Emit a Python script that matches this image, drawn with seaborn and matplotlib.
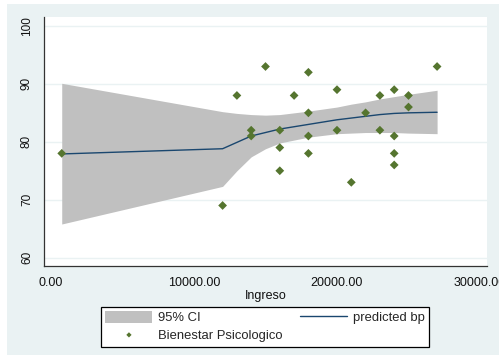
import numpy as np
import pandas as pd
import matplotlib
matplotlib.use("Agg")
import matplotlib.pyplot as plt
import matplotlib.patches as mpatches
import seaborn as sns

ingreso = [750, 12000, 13000, 14000, 14000, 15000, 16000, 16000, 16000, 17000,
           18000, 18000, 18000, 18000, 20000, 20000, 21000, 22000, 23000, 23000,
           24000, 24000, 24000, 24000, 25000, 25000, 27000]
bienestar = [78, 69, 88, 82, 81, 93, 82, 79, 75, 88,
             92, 85, 81, 78, 89, 82, 73, 85, 88, 82,
             89, 81, 78, 76, 88, 86, 93]

# Fitted values and 95% CI at each distinct x
fit_x = [750, 12000, 13000, 14000, 15000, 16000, 17000, 18000, 20000, 21000,
         22000, 23000, 24000, 25000, 27000]
fit_pred = [77.9, 78.8, 79.9, 81.0, 81.6, 82.2, 82.6, 83.0, 83.8, 84.1,
            84.4, 84.7, 84.9, 85.0, 85.1]
ci_low = [65.8, 72.3, 75.0, 77.4, 78.8, 79.8, 80.3, 80.8, 81.4, 81.5,
          81.6, 81.6, 81.6, 81.5, 81.4]
ci_high = [90.1, 85.2, 84.9, 84.7, 84.6, 84.7, 85.0, 85.3, 86.0, 86.5,
           86.9, 87.4, 87.8, 88.2, 88.9]

xticks = [0, 10000, 20000, 30000]
xtick_labels = ["0.00", "10000.00", "20000.00", "30000.00"]
yticks = [60, 70, 80, 90, 100]

obs = pd.DataFrame({"Ingreso": ingreso, "bp": bienestar})
fit = pd.DataFrame({"Ingreso": fit_x, "pred": fit_pred, "lo": ci_low, "hi": ci_high})

sns.set_style("white")
plt.rcParams["font.family"] = ["Liberation Sans", "DejaVu Sans"]

W, H = 499, 359
fig = plt.figure(figsize=(W / 100, H / 100), dpi=100)
fig.patch.set_facecolor("white")
# Stata-like graph region, behind the axes
fig.patches.append(mpatches.Rectangle((7 / W, 4 / H), (W - 7) / W, (355 - 4) / H,
                                      transform=fig.transFigure, facecolor="#EAF2F3",
                                      edgecolor="none", zorder=-10))

ax = fig.add_axes([44 / W, (H - 266) / H, (487 - 44) / W, (266 - 17) / H])
ax.set_facecolor("white")

ax.fill_between(fit["Ingreso"], fit["lo"], fit["hi"], color="#C0C0C0",
                linewidth=0, label="95% CI", zorder=2)
sns.lineplot(data=fit, x="Ingreso", y="pred", ax=ax, color="#1A476F",
             linewidth=1.0, label="predicted bp", zorder=3)
sns.scatterplot(data=obs, x="Ingreso", y="bp", ax=ax, marker="D", s=20,
                color="#55752F", edgecolor="none", label="Bienestar Psicologico",
                zorder=4)

ax.set_xlim(-490, 30490)
ax.set_ylim(58.55, 101.55)
ax.set_xticks(xticks)
ax.set_xticklabels(xtick_labels)
ax.set_yticks(yticks)
ax.set_yticklabels([str(v) for v in yticks], rotation=90, va="center")

ax.grid(axis="y", color="#EAF2F3", linewidth=1.0, zorder=1)
ax.set_axisbelow(True)
for s in ["top", "right"]:
    ax.spines[s].set_visible(False)
for s in ["left", "bottom"]:
    ax.spines[s].set_color("#333333")
    ax.spines[s].set_linewidth(0.9)

ax.tick_params(axis="both", direction="out", length=4, width=0.8, color="#333333",
               labelcolor="#111111")
ax.tick_params(axis="x", labelsize=9, pad=4)
ax.tick_params(axis="y", labelsize=8.5, pad=4)
ax.set_xlabel("Ingreso", fontsize=9, color="#111111", labelpad=1)
ax.set_ylabel("")

handles, labels = ax.get_legend_handles_labels()
order = [labels.index("95% CI"), labels.index("Bienestar Psicologico"),
         labels.index("predicted bp")]
if ax.get_legend():
    ax.get_legend().remove()
leg = fig.legend([handles[i] for i in order], [labels[i] for i in order],
                 loc="center", bbox_to_anchor=(265 / W, 1 - 326.7 / H),
                 ncol=2, fontsize=9.4, frameon=True, fancybox=False,
                 handlelength=3.6, handleheight=0.95, handletextpad=0.45,
                 columnspacing=1.3, labelspacing=0.35, borderpad=0.35,
                 markerscale=0.6)
leg.get_frame().set_edgecolor("black")
leg.get_frame().set_linewidth(0.9)
leg.get_frame().set_facecolor("white")
leg.get_frame().set_alpha(1)

fig.savefig("out.png", dpi=100)
